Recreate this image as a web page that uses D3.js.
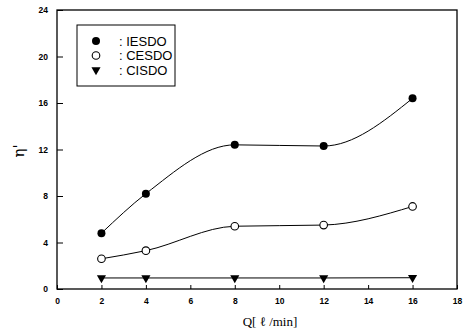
<!DOCTYPE html>
<html><head><meta charset="utf-8">
<script src="https://cdn.jsdelivr.net/npm/d3@7"></script>
<style>body{margin:0;background:#fff;} svg{display:block;}</style>
</head><body>
<svg id="c" width="474" height="333"></svg>
<script>
const flows = [2, 4, 8, 12, 16];
const iesdo = [4.8, 8.2, 12.4, 12.3, 16.4];
const cesdo = [2.6, 3.3, 5.4, 5.5, 7.1];
const cisdo = [0.95, 0.95, 0.95, 0.95, 0.97];
const xTicks = [0, 2, 4, 6, 8, 10, 12, 14, 16, 18];
const yTicks = [0, 4, 8, 12, 16, 20, 24];
const seriesNames = ["IESDO", "CESDO", "CISDO"];

const svg = d3.select("#c");
const m = {l: 57, r: 457, t: 10, b: 289};
const x = d3.scaleLinear().domain([0, 18]).range([m.l, m.r]);
const y = d3.scaleLinear().domain([0, 24]).range([m.b, m.t]);

svg.append("rect").attr("x", m.l).attr("y", m.t).attr("width", m.r - m.l).attr("height", m.b - m.t)
  .attr("fill", "none").attr("stroke", "#000").attr("stroke-width", 1.3);

const xa = svg.append("g").attr("transform", `translate(0,${m.b})`)
  .call(d3.axisBottom(x).tickValues(xTicks).tickSizeInner(-4).tickSizeOuter(0).tickPadding(9));
const ya = svg.append("g").attr("transform", `translate(${m.l},0)`)
  .call(d3.axisLeft(y).tickValues(yTicks).tickSizeInner(-6).tickSizeOuter(0).tickPadding(9));
[xa, ya].forEach(a => {
  a.select(".domain").remove();
  a.selectAll("line").attr("stroke", "#000");
  a.selectAll("text").attr("font-family", "Liberation Sans, Arial, sans-serif")
    .attr("font-size", 8.5).attr("font-weight", "bold").attr("fill", "#000");
});

const line = d3.line().x((d, i) => x(flows[i])).y(d => y(d)).curve(d3.curveMonotoneX);
[iesdo, cesdo, cisdo].forEach(s => {
  svg.append("path").datum(s).attr("d", line).attr("fill", "none").attr("stroke", "#000").attr("stroke-width", 1);
});

function marker(g, type, cx, cy) {
  if (type === 0) g.append("circle").attr("cx", cx).attr("cy", cy).attr("r", 4).attr("fill", "#000");
  else if (type === 1) g.append("circle").attr("cx", cx).attr("cy", cy).attr("r", 3.8).attr("fill", "#fff").attr("stroke", "#000").attr("stroke-width", 1.1);
  else g.append("path").attr("d", d3.symbol(d3.symbolTriangle, 36)()).attr("fill", "#000")
    .attr("transform", `translate(${cx},${cy}) rotate(180)`);
}
const mg = svg.append("g");
[iesdo, cesdo, cisdo].forEach((s, k) => s.forEach((v, i) => marker(mg, k, x(flows[i]), y(v))));

// legend
svg.append("rect").attr("x", 77).attr("y", 25).attr("width", 98).attr("height", 61)
  .attr("fill", "#fff").attr("stroke", "#000").attr("stroke-width", 1);
seriesNames.forEach((n, k) => {
  const cy = 41 + k * 14.5;
  marker(svg, k, 96, cy);
  svg.append("text").attr("x", 119).attr("y", cy + 4.5).text(": " + n)
    .attr("font-family", "Liberation Sans, Arial, sans-serif").attr("font-size", 13).attr("fill", "#000");
});

svg.append("text").attr("transform", "translate(24,151) rotate(-90)").attr("text-anchor", "middle")
  .attr("font-family", "DejaVu Serif, serif").attr("font-size", 15).text("η'");
svg.append("text").attr("x", 270).attr("y", 326).attr("text-anchor", "middle")
  .attr("font-family", "Liberation Serif, Times New Roman, serif").attr("font-size", 13).text("Q[ ℓ /min]");
</script>
</body></html>
